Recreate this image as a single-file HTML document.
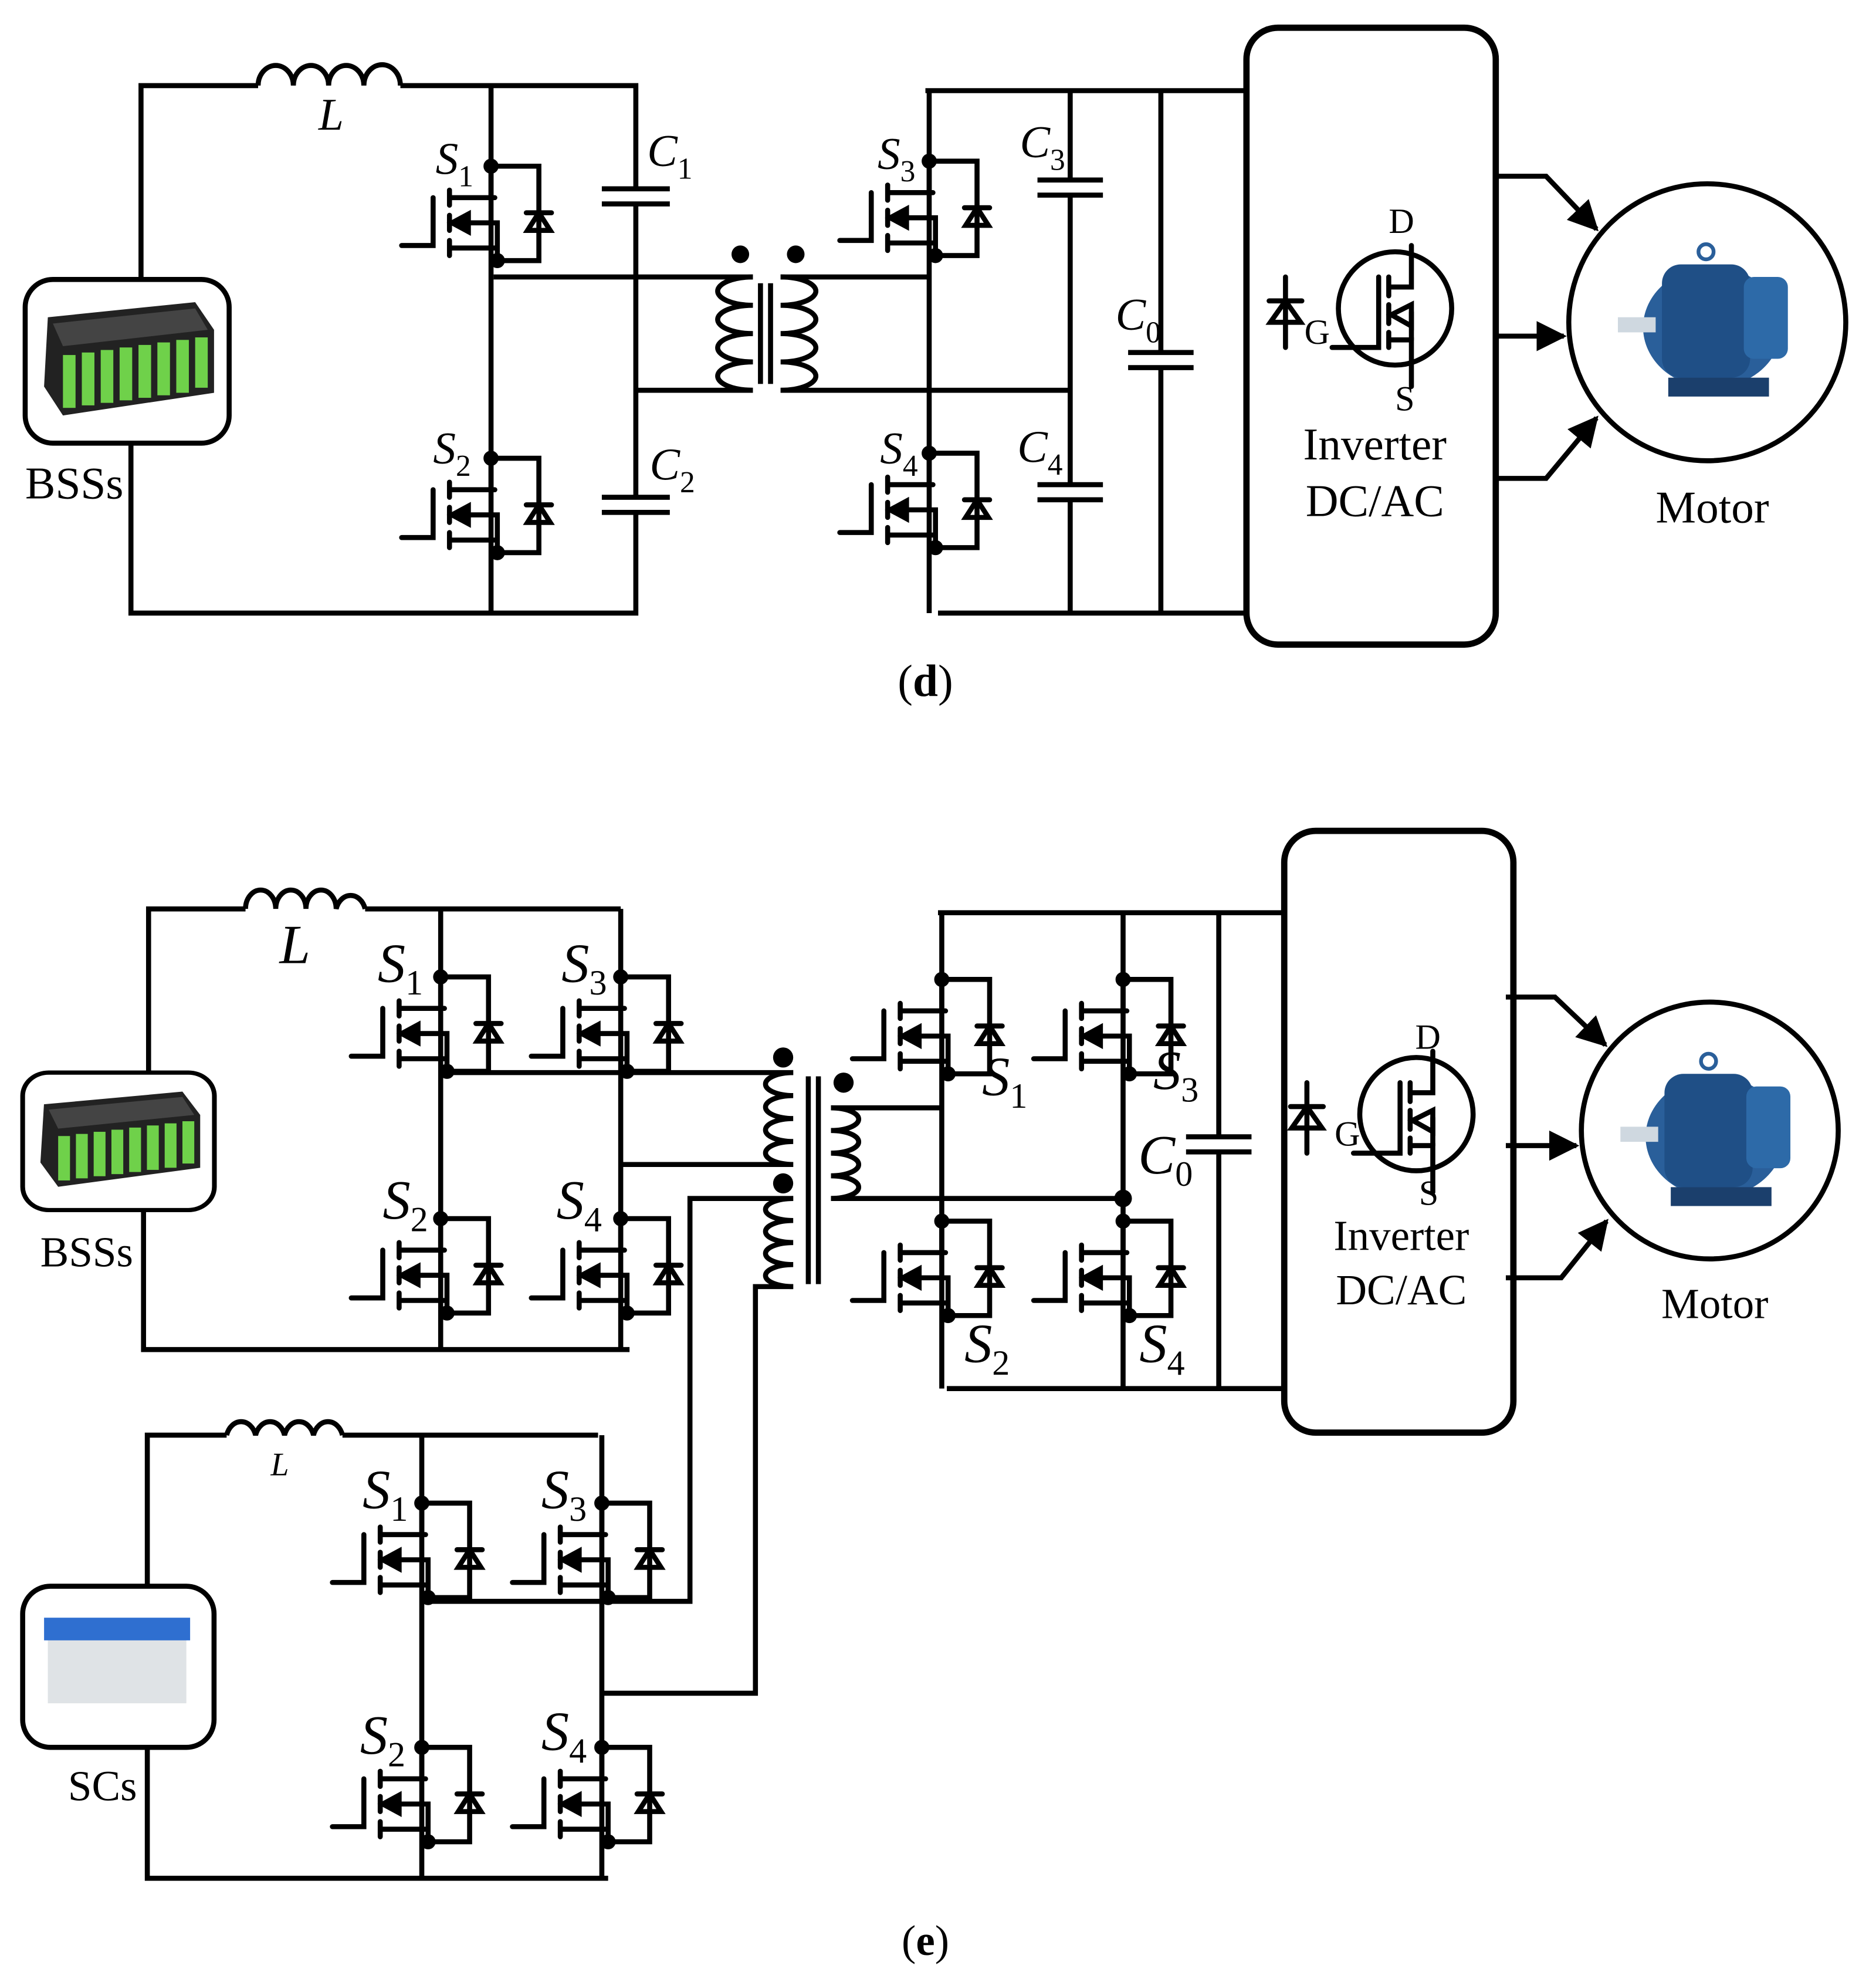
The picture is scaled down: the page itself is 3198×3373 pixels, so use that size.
<!DOCTYPE html>
<html><head><style>
html,body{margin:0;padding:0;background:#fff;}
svg{display:block;}
text{font-family:"Liberation Serif",serif;fill:#000;}
.it{font-style:italic;}
</style></head><body>
<svg width="3198" height="3373" viewBox="0 0 1490 1572" preserveAspectRatio="none" xmlns="http://www.w3.org/2000/svg">
<defs>
<g id="sw" fill="none" stroke="#000" stroke-width="4" stroke-linecap="round">
  <path d="M0,0 V25 M-33,25 H3 M-33,19 V31 M-33,39 V51 M-33,59 V71 M-28,45 H5 V75 M-33,65 H5 M-46,25 V63 H-71"/>
  <path d="M-31,45 L-18,38 L-18,52 Z" fill="#000"/>
  <path d="M0,0 H38 V75 H5"/>
  <path d="M28,37 H48 M38,37 L29,51 H47 Z"/>
  <circle cx="0" cy="0" r="4" fill="#000"/>
  <circle cx="5" cy="75" r="4" fill="#000"/>
</g>
<g id="mos" fill="none" stroke="#000" stroke-width="4" stroke-linecap="round">
  <circle cx="0" cy="0" r="45"/>
  <path d="M-13,-25 V31 H-50 M-5,-25 V-10 M-5,-3 V12 M-5,19 V31 M-5,-17 H13 V-45 M-5,25 H13 V62 M13,-50 V-45"/>
  <path d="M-3,5 L13,-3 V14 Z"/>
  <path d="M13,3 V25"/>
  <path d="M-87,-25 V31 M-100,-6 H-74 M-87,-6 L-99,11 H-75 Z"/>
</g>
<g id="motor">
  <ellipse cx="0" cy="5" rx="55" ry="48" fill="#2a5f9a"/>
  <rect x="-40" y="-45" width="70" height="90" rx="15" fill="#1f4f86"/>
  <rect x="25" y="-35" width="35" height="65" rx="8" fill="#2d6aa8"/>
  <rect x="-75" y="-3" width="30" height="12" fill="#cfd8e0"/>
  <rect x="-35" y="45" width="80" height="15" fill="#1b3f6c"/>
  <circle cx="-5" cy="-55" r="6" fill="none" stroke="#2a5f9a" stroke-width="3"/>
</g>
<g id="bat">
  <rect x="0" y="0" width="162" height="130" rx="22" fill="#fff" stroke="#000" stroke-width="4"/>
  <path d="M18,30 L135,18 L150,40 L150,90 L30,108 L15,85 Z" fill="#222"/>
  <g fill="#6fd14a"><rect x="30" y="60" width="10" height="42"/><rect x="45" y="58" width="10" height="42"/><rect x="60" y="56" width="10" height="42"/><rect x="75" y="54" width="10" height="42"/><rect x="90" y="52" width="10" height="42"/><rect x="105" y="50" width="10" height="42"/><rect x="120" y="48" width="10" height="42"/><rect x="135" y="46" width="10" height="40"/></g>
  <path d="M22,35 L135,23 L145,40 L30,53 Z" fill="#444"/>
</g>
<marker id="ar" viewBox="0 0 10 10" refX="9" refY="5" markerWidth="6" markerHeight="6" orient="auto"><path d="M0,0 L10,5 L0,10 Z" fill="#000"/></marker>
</defs>

<g fill="none" stroke="#000" stroke-width="4">
<!-- (d) -->
<path d="M112,220 V68 H205 M318,68 H505 V150 M505,162 V395 M505,407 V487 H104 V352"/>
<path d="M205,68 a14,16 0 0 1 28,0 a14,16 0 0 1 28,0 a14,16 0 0 1 28,0 a14,16 0 0 1 29,0"/>
<path d="M390,68 V487"/>
<path d="M478,150 H532 M478,162 H532 M478,395 H532 M478,407 H532"/>
<path d="M392,220 H598 M505,310 H598"/>
<path d="M598,220 a28,11.25 0 0 0 0,22.5 a28,11.25 0 0 0 0,22.5 a28,11.25 0 0 0 0,22.5 a28,11.25 0 0 0 0,22.5"/>
<path d="M604,225 V305 M612,225 V305"/>
<path d="M620,220 a28,11.25 0 0 1 0,22.5 a28,11.25 0 0 1 0,22.5 a28,11.25 0 0 1 0,22.5 a28,11.25 0 0 1 0,22.5"/>
<path d="M620,220 H738 M620,310 H850 M738,72 V487 M735,72 H990 M745,487 H990"/>
<path d="M850,72 V143 M850,155 V385 M850,397 V487 M824,143 H876 M824,155 H876 M824,385 H876 M824,397 H876"/>
<path d="M922,72 V280 M922,292 V487 M896,280 H948 M896,292 H948"/>
<rect x="990" y="22" width="198" height="490" rx="25" stroke-width="5"/>
<path d="M1188,140 H1228 L1268,182" marker-end="url(#ar)"/>
<path d="M1188,267 H1242" marker-end="url(#ar)"/>
<path d="M1188,380 H1228 L1268,332" marker-end="url(#ar)"/>
<circle cx="1356" cy="256" r="110"/>
</g>
<circle cx="588" cy="202" r="7"/><circle cx="632" cy="202" r="7"/>
<use href="#sw" x="390" y="132"/>
<use href="#sw" x="390" y="364"/>
<use href="#sw" x="738" y="128"/>
<use href="#sw" x="738" y="360"/>
<use href="#mos" x="1108" y="245"/>
<use href="#motor" x="1360" y="255"/>
<use href="#bat" x="20" y="222"/>
<g font-size="36">
<text x="253" y="103" class="it">L</text>
<text x="346" y="138" class="it">S<tspan font-size="24" font-style="normal" dy="10">1</tspan></text>
<text x="344" y="368" class="it">S<tspan font-size="24" font-style="normal" dy="10">2</tspan></text>
<text x="697" y="134" class="it">S<tspan font-size="24" font-style="normal" dy="10">3</tspan></text>
<text x="699" y="368" class="it">S<tspan font-size="24" font-style="normal" dy="10">4</tspan></text>
<text x="514" y="132" class="it">C<tspan font-size="24" font-style="normal" dy="10">1</tspan></text>
<text x="516" y="381" class="it">C<tspan font-size="24" font-style="normal" dy="10">2</tspan></text>
<text x="810" y="125" class="it">C<tspan font-size="24" font-style="normal" dy="10">3</tspan></text>
<text x="808" y="367" class="it">C<tspan font-size="24" font-style="normal" dy="10">4</tspan></text>
<text x="886" y="262" class="it">C<tspan font-size="24" font-style="normal" dy="10">0</tspan></text>
<text x="20" y="396">BSSs</text>
<text x="1092" y="365" text-anchor="middle">Inverter</text>
<text x="1092" y="410" text-anchor="middle">DC/AC</text>
<text x="1360" y="415" text-anchor="middle">Motor</text>
<text x="735" y="553" text-anchor="middle">(<tspan font-weight="bold">d</tspan>)</text>
</g>
<g font-size="28"><text x="1103" y="185">D</text><text x="1036" y="273">G</text><text x="1108" y="326">S</text></g>

<!-- (e) -->
<g fill="none" stroke="#000" stroke-width="4">
<path d="M118,852 V722 H195 M290,722 H493 M114,960 V1072 H500"/>
<path d="M195,722 a12,15 0 0 1 24,0 a12,15 0 0 1 24,0 a12,15 0 0 1 24,0 a12,15 0 0 1 23,0"/>
<path d="M350,722 V1072 M493,722 V1072"/>
<path d="M350,852 H630 M493,925 H630"/>
<path d="M630,852 a22,9.125 0 0 0 0,18.25 a22,9.125 0 0 0 0,18.25 a22,9.125 0 0 0 0,18.25 a22,9.125 0 0 0 0,18.25"/>
<path d="M630,952 a22,8.75 0 0 0 0,17.5 a22,8.75 0 0 0 0,17.5 a22,8.75 0 0 0 0,17.5 a22,8.75 0 0 0 0,17.5"/>
<path d="M642,855 V1020 M650,855 V1020"/>
<path d="M660,880 a22,9 0 0 1 0,18 a22,9 0 0 1 0,18 a22,9 0 0 1 0,18 a22,9 0 0 1 0,18"/>
<path d="M660,880 H748 M660,952 H892"/>
<path d="M745,725 H1020 M748,725 V1103 M892,725 V1103 M752,1103 H1020"/>
<path d="M968,725 V903 M968,915 V1103 M942,903 H994 M942,915 H994"/>
<rect x="1020" y="660" width="182" height="478" rx="25" stroke-width="5"/>
<path d="M1196,792 H1235 L1275,830" marker-end="url(#ar)"/>
<path d="M1196,910 H1252" marker-end="url(#ar)"/>
<path d="M1196,1015 H1240 L1276,970" marker-end="url(#ar)"/>
<circle cx="1358" cy="898" r="102"/>
<!-- SC -->
<path d="M117,1260 V1140 H180 M272,1140 H475 M117,1388 V1492 H483"/>
<path d="M180,1140 a12,15 0 0 1 23,0 a12,15 0 0 1 23,0 a12,15 0 0 1 23,0 a12,15 0 0 1 23,0"/>
<path d="M335,1140 V1492 M478,1140 V1492"/>
<path d="M335,1272 H548 V952 H630 M478,1345 H600 V1022 H630"/>
</g>
<circle cx="622" cy="840" r="8"/><circle cx="622" cy="940" r="8"/><circle cx="670" cy="860" r="8"/><circle cx="892" cy="952" r="7"/>
<use href="#sw" x="350" y="776"/><use href="#sw" x="493" y="776"/>
<use href="#sw" x="350" y="968"/><use href="#sw" x="493" y="968"/>
<use href="#sw" x="748" y="778"/><use href="#sw" x="892" y="778"/>
<use href="#sw" x="748" y="970"/><use href="#sw" x="892" y="970"/>
<use href="#sw" x="335" y="1194"/><use href="#sw" x="478" y="1194"/>
<use href="#sw" x="335" y="1388"/><use href="#sw" x="478" y="1388"/>
<use href="#mos" x="1125" y="885"/>
<use href="#motor" x="1362" y="898"/>
<use href="#bat" transform="translate(18,852) scale(0.94,0.84)"/>
<rect x="18" y="1260" width="152" height="128" rx="22" fill="#fff" stroke="#000" stroke-width="4"/>
<rect x="38" y="1295" width="110" height="58" fill="#dfe3e6"/>
<rect x="35" y="1285" width="116" height="18" fill="#2f6fd0"/>
<g font-size="44">
<text x="222" y="765" class="it">L</text>
<text x="300" y="780" class="it">S<tspan font-size="28" font-style="normal" dy="10">1</tspan></text>
<text x="446" y="780" class="it">S<tspan font-size="28" font-style="normal" dy="10">3</tspan></text>
<text x="304" y="968" class="it">S<tspan font-size="28" font-style="normal" dy="10">2</tspan></text>
<text x="442" y="968" class="it">S<tspan font-size="28" font-style="normal" dy="10">4</tspan></text>
<text x="780" y="870" class="it">S<tspan font-size="28" font-style="normal" dy="10">1</tspan></text>
<text x="916" y="865" class="it">S<tspan font-size="28" font-style="normal" dy="10">3</tspan></text>
<text x="766" y="1082" class="it">S<tspan font-size="28" font-style="normal" dy="10">2</tspan></text>
<text x="905" y="1082" class="it">S<tspan font-size="28" font-style="normal" dy="10">4</tspan></text>
<text x="904" y="932" class="it">C<tspan font-size="28" font-style="normal" dy="10">0</tspan></text>
<text x="288" y="1198" class="it">S<tspan font-size="28" font-style="normal" dy="10">1</tspan></text>
<text x="430" y="1198" class="it">S<tspan font-size="28" font-style="normal" dy="10">3</tspan></text>
<text x="286" y="1393" class="it">S<tspan font-size="28" font-style="normal" dy="10">2</tspan></text>
<text x="430" y="1390" class="it">S<tspan font-size="28" font-style="normal" dy="10">4</tspan></text>
</g>
<g font-size="34">
<text x="215" y="1172" class="it" font-size="26">L</text>
<text x="32" y="1006">BSSs</text>
<text x="54" y="1430">SCs</text>
<text x="1113" y="993" text-anchor="middle">Inverter</text>
<text x="1113" y="1036" text-anchor="middle">DC/AC</text>
<text x="1362" y="1047" text-anchor="middle">Motor</text>
<text x="735" y="1553" text-anchor="middle">(<tspan font-weight="bold">e</tspan>)</text>
</g>
<g font-size="28"><text x="1124" y="833">D</text><text x="1060" y="910">G</text><text x="1127" y="957">S</text></g>
</svg>
</body></html>
